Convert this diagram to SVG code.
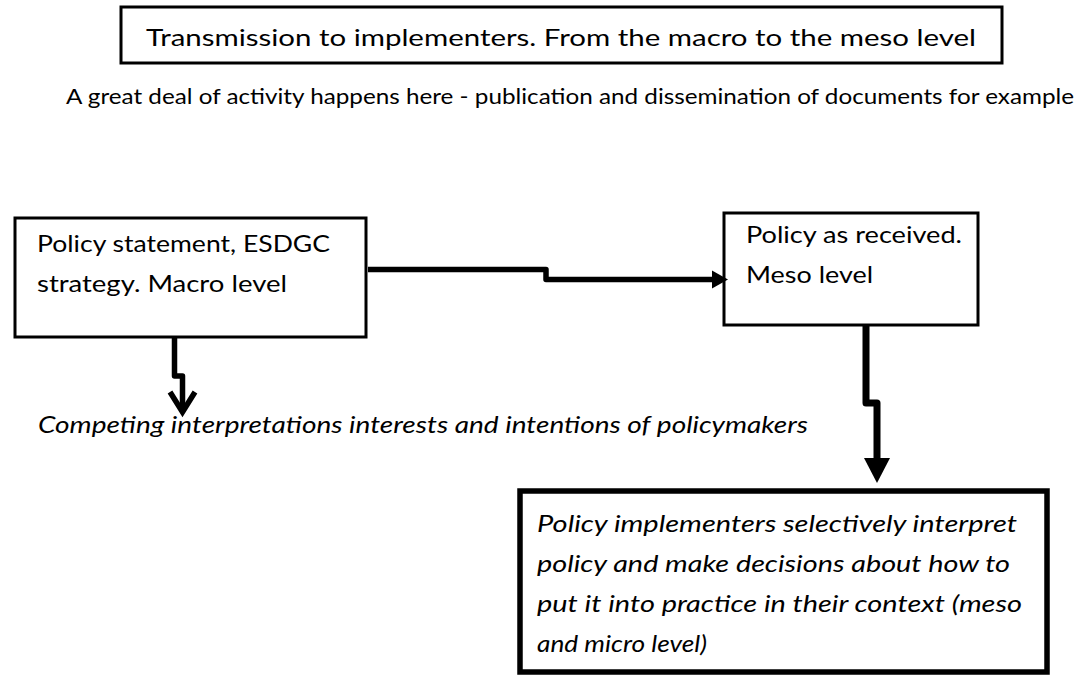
<svg xmlns="http://www.w3.org/2000/svg" width="1083" height="675" viewBox="0 0 1083 675">
  <style>
    .box { fill: #ffffff; stroke: #000000; }
    .txt { font-family: "Lato", "Liberation Sans", sans-serif; fill: #000000; }
    .it { font-style: italic; }
    .wire { fill: none; stroke: #000000; stroke-linejoin: round; }
  </style>
  <defs>
    <!-- filled triangular heads, drawn from the end of the shaft forward -->
    <marker id="headSmall" markerUnits="userSpaceOnUse" markerWidth="20" markerHeight="22" refX="0" refY="9" orient="auto" overflow="visible">
      <path d="M0,0 L16,9 L0,18 Z" fill="#000000"/>
    </marker>
    <marker id="headLarge" markerUnits="userSpaceOnUse" markerWidth="28" markerHeight="30" refX="0" refY="13" orient="auto" overflow="visible">
      <path d="M0,0 L25,13 L0,26 Z" fill="#000000"/>
    </marker>
    <!-- open chevron head -->
    <marker id="headOpen" markerUnits="userSpaceOnUse" markerWidth="30" markerHeight="30" refX="0" refY="0" orient="auto" overflow="visible">
      <path d="M-20,-12.5 L0,0 L-20,12.5" fill="none" stroke="#000000" stroke-width="5.5" stroke-linejoin="miter"/>
    </marker>
  </defs>

  <!-- heading box -->
  <g id="title">
    <rect class="box" x="121" y="7" width="881" height="56" stroke-width="3"/>
    <text class="txt" x="146" y="46" font-size="24" textLength="830" lengthAdjust="spacingAndGlyphs">Transmission to implementers. From the macro to the meso level</text>
  </g>

  <g id="note-activity">
    <text class="txt" x="66" y="104" font-size="21" textLength="1008" lengthAdjust="spacingAndGlyphs">A great deal of activity happens here - publication and dissemination of documents for example</text>
  </g>

  <g id="macro">
    <rect class="box" x="15" y="218" width="351" height="119" stroke-width="3"/>
    <text class="txt" x="37" y="252" font-size="24" textLength="293" lengthAdjust="spacingAndGlyphs">Policy statement, ESDGC</text>
    <text class="txt" x="37" y="292" font-size="24" textLength="250" lengthAdjust="spacingAndGlyphs">strategy. Macro level</text>
  </g>

  <g id="meso">
    <rect class="box" x="724" y="213" width="254" height="112" stroke-width="3"/>
    <text class="txt" x="746" y="243" font-size="24" textLength="216" lengthAdjust="spacingAndGlyphs">Policy as received.</text>
    <text class="txt" x="746" y="283" font-size="24" textLength="127" lengthAdjust="spacingAndGlyphs">Meso level</text>
  </g>

  <g id="interpretations">
    <text class="txt it" x="38" y="433" font-size="24" textLength="770" lengthAdjust="spacingAndGlyphs">Competing interpretations interests and intentions of policymakers</text>
  </g>

  <g id="implementers">
    <rect class="box" x="520" y="491" width="527" height="181" stroke-width="5.5"/>
    <text class="txt it" x="537" y="532" font-size="24" textLength="480" lengthAdjust="spacingAndGlyphs">Policy implementers selectively interpret</text>
    <text class="txt it" x="537" y="572" font-size="24" textLength="473" lengthAdjust="spacingAndGlyphs">policy and make decisions about how to</text>
    <text class="txt it" x="537" y="612" font-size="24" textLength="485" lengthAdjust="spacingAndGlyphs">put it into practice in their context (meso</text>
    <text class="txt it" x="537" y="652" font-size="24" textLength="170" lengthAdjust="spacingAndGlyphs">and micro level)</text>
  </g>

  <g id="connectors">
    <!-- macro to meso -->
    <path class="wire" d="M368,269.5 H546 V279.5 H712" stroke-width="5.5" marker-end="url(#headSmall)"/>
    <!-- macro down to the competing interpretations -->
    <path class="wire" d="M174.5,338 V376 H182.5 V412" stroke-width="5.5" marker-end="url(#headOpen)"/>
    <!-- meso down to the implementers -->
    <path class="wire" d="M866,326 V403 H877 V458" stroke-width="7" marker-end="url(#headLarge)"/>
  </g>
</svg>
